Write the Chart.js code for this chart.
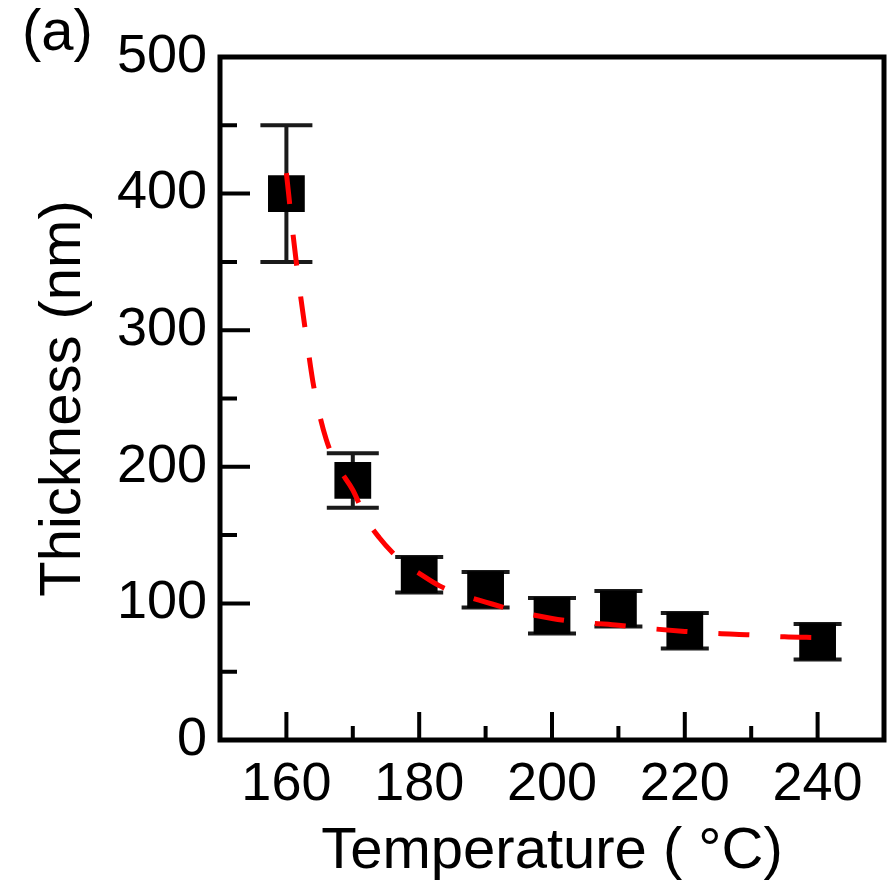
<!DOCTYPE html>
<html>
<head>
<meta charset="utf-8">
<script src="https://cdn.jsdelivr.net/npm/chart.js@4.4.0/dist/chart.umd.min.js"></script>
<style>
  body { margin: 0; background: #fff; }
  #wrap { width: 888px; height: 884px; }
</style>
</head>
<body>
<div id="wrap"><canvas id="thickChart" width="888" height="884"></canvas></div>
<script>
// --- data ---
const temps = [160, 170, 180, 190, 200, 210, 220, 240];
const thickness = [400, 190, 121, 110, 91, 96, 80, 72];
const thickErr = [50, 20, 13, 13, 13, 13, 13, 13];

// dashed fit curve, sampled by eye along the red dashes
const fitTemps = [160, 161, 162, 163, 164, 165, 166, 167, 168, 170, 172, 174, 176, 178, 180, 183, 186, 190, 195, 200, 205, 210, 215, 220, 225, 230, 235, 240];
const fitThick = [415, 370, 330, 295, 262, 238, 220, 207, 198, 183, 162, 148, 137, 128, 122, 113, 107, 101, 94, 89, 86, 84, 81.5, 79.5, 78, 77, 75.5, 75];

const xTicks = [160, 180, 200, 220, 240];
const xMinorTicks = [170, 190, 210, 230];
const yTicks = [0, 100, 200, 300, 400, 500];
const yMinorTicks = [50, 150, 250, 350, 450];

const FONT = "'Liberation Sans', Arial, sans-serif";

// --- frame, inward ticks, error bars, panel label ---
const figDecor = {
    id: 'figDecor',
    beforeDatasetsDraw(chart) {
        const ctx = chart.ctx;
        const xs = chart.scales.x, ys = chart.scales.y;
        ctx.save();
        ctx.strokeStyle = '#1a1a1a';
        ctx.lineWidth = 4;
        temps.forEach((t, i) => {
            const px = xs.getPixelForValue(t);
            const top = ys.getPixelForValue(thickness[i] + thickErr[i]);
            const bot = ys.getPixelForValue(thickness[i] - thickErr[i]);
            const half = i < 2 ? 26 : 24;
            ctx.beginPath();
            ctx.moveTo(px, top); ctx.lineTo(px, bot);
            ctx.moveTo(px - half, top); ctx.lineTo(px + half, top);
            ctx.moveTo(px - half, bot); ctx.lineTo(px + half, bot);
            ctx.stroke();
        });
        ctx.restore();
    },
    afterDraw(chart) {
        const ctx = chart.ctx;
        const a = chart.chartArea;
        const xs = chart.scales.x, ys = chart.scales.y;
        ctx.save();
        ctx.strokeStyle = '#000';
        ctx.lineWidth = 4;
        ctx.beginPath();
        xTicks.forEach(v => { const p = xs.getPixelForValue(v); ctx.moveTo(p, a.bottom); ctx.lineTo(p, a.bottom - 28); });
        xMinorTicks.forEach(v => { const p = xs.getPixelForValue(v); ctx.moveTo(p, a.bottom); ctx.lineTo(p, a.bottom - 14); });
        yTicks.forEach(v => { const p = ys.getPixelForValue(v); ctx.moveTo(a.left, p); ctx.lineTo(a.left + 30, p); });
        yMinorTicks.forEach(v => { const p = ys.getPixelForValue(v); ctx.moveTo(a.left, p); ctx.lineTo(a.left + 17, p); });
        ctx.stroke();

        ctx.lineWidth = 5;
        ctx.strokeRect(a.left, a.top, a.right - a.left, a.bottom - a.top);

        ctx.fillStyle = '#000';
        ctx.font = '58px ' + FONT;
        ctx.textBaseline = 'alphabetic';
        ctx.textAlign = 'left';
        ctx.fillText('(a)', 22, 50);
        ctx.restore();
    }
};

const ctx = document.getElementById('thickChart');
new Chart(ctx, {
    type: 'scatter',
    data: {
        datasets: [
            {
                type: 'line',
                data: fitTemps.map((t, i) => ({ x: t, y: fitThick[i] })),
                borderColor: '#ff0000', borderWidth: 5, borderDash: [31, 31],
                pointRadius: 0, fill: false, cubicInterpolationMode: 'monotone',
                order: 0
            },
            {
                type: 'scatter',
                data: temps.map((t, i) => ({ x: t, y: thickness[i] })),
                pointStyle: 'rect', pointRadius: 26, pointHoverRadius: 26,
                backgroundColor: '#000', borderWidth: 0,
                order: 1
            }
        ]
    },
    options: {
        responsive: false,
        animation: false,
        layout: { autoPadding: false, padding: { top: 57, right: 4, left: 0, bottom: 0 } },
        plugins: { legend: { display: false }, tooltip: { enabled: false } },
        scales: {
            x: {
                type: 'linear', min: 150, max: 250,
                afterBuildTicks: axis => { axis.ticks = xTicks.map(v => ({ value: v })); },
                afterFit: axis => { axis.height = 144; axis.paddingLeft = 0; axis.paddingRight = 0; },
                grid: { display: false, drawTicks: false }, border: { display: false },
                ticks: { color: '#000', font: { family: FONT, size: 54 }, padding: 13, maxRotation: 0 },
                title: { display: true, text: 'Temperature ( °C)', color: '#000', font: { family: FONT, size: 58, lineHeight: 1 }, padding: { top: 0, bottom: 3 } }
            },
            y: {
                type: 'linear', min: 0, max: 500,
                afterBuildTicks: axis => { axis.ticks = yTicks.map(v => ({ value: v })); },
                afterFit: axis => { axis.width = 220; axis.paddingTop = 0; axis.paddingBottom = 0; },
                grid: { display: false, drawTicks: false }, border: { display: false },
                ticks: { color: '#000', font: { family: FONT, size: 54 }, padding: 13 },
                title: { display: true, text: 'Thickness (nm)', color: '#000', font: { family: FONT, size: 58, lineHeight: 1 }, padding: { top: 35, bottom: 0 } }
            }
        }
    },
    plugins: [figDecor]
});
</script>
</body>
</html>
